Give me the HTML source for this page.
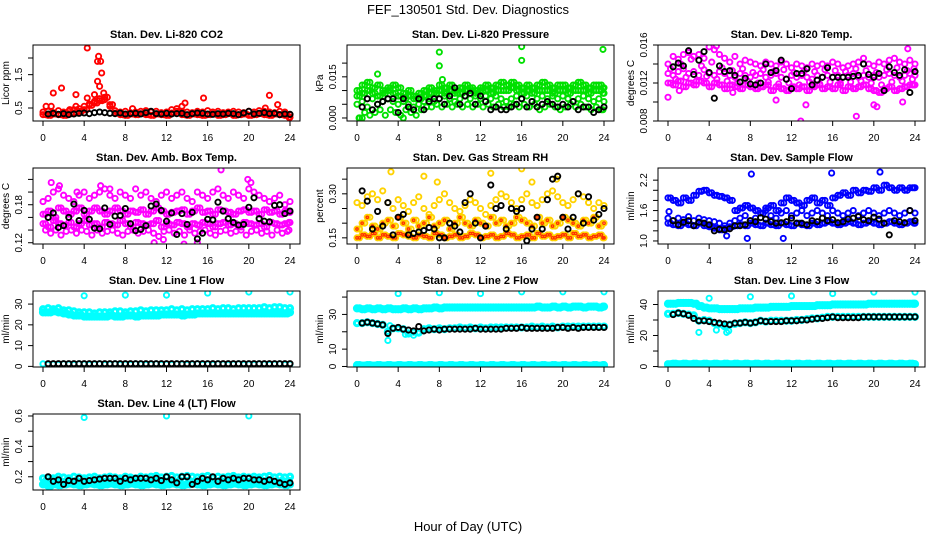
<!DOCTYPE html>
<html><head><meta charset="utf-8">
<style>
html,body{margin:0;padding:0;background:#fff;}
svg{display:block;font-family:"Liberation Sans",sans-serif;}
</style></head>
<body>
<svg id="chart" width="936" height="540" viewBox="0 0 936 540" xmlns="http://www.w3.org/2000/svg">
<text x="468" y="14" text-anchor="middle" font-size="13">FEF_130501  Std. Dev. Diagnostics</text>
<text x="468" y="531" text-anchor="middle" font-size="13">Hour of Day (UTC)</text>
</svg>
<script>
// shared time grids
const hours = [0,0.5,1,1.5,2,2.5,3,3.5,4,4.5,5,5.5,6,6.5,7,7.5,8,8.5,9,9.5,10,10.5,11,11.5,12,12.5,13,13.5,14,14.5,15,15.5,16,16.5,17,17.5,18,18.5,19,19.5,20,20.5,21,21.5,22,22.5,23,23.5,24];
const hoursOff = [0.25,0.75,1.25,1.75,2.25,2.75,3.25,3.75,4.25,4.75,5.25,5.75,6.25,6.75,7.25,7.75,8.25,8.75,9.25,9.75,10.25,10.75,11.25,11.75,12.25,12.75,13.25,13.75,14.25,14.75,15.25,15.75,16.25,16.75,17.25,17.75,18.25,18.75,19.25,19.75,20.25,20.75,21.25,21.75,22.25,22.75,23.25,23.75,23.9];
const blackHours = [0.5,1,1.5,2,2.5,3,3.5,4,4.5,5,5.5,6,6.5,7,7.5,8,8.5,9,9.5,10,10.5,11,11.5,12,12.5,13,13.5,14,14.5,15,15.5,16,16.5,17,17.5,18,18.5,19,19.5,20,20.5,21,21.5,22,22.5,23,23.5,24];
const xTicks = [0,4,8,12,16,20,24];

// Panel 1: Li-820 CO2
const co2A = [0.38,0.40,0.36,0.42,0.38,0.40,0.45,0.48,0.55,0.62,0.70,0.78,0.75,0.55,0.42,0.38,0.40,0.36,0.38,0.40,0.42,0.38,0.40,0.36,0.38,0.45,0.48,0.40,0.38,0.36,0.40,0.38,0.42,0.38,0.40,0.36,0.38,0.40,0.38,0.36,0.40,0.38,0.42,0.40,0.38,0.36,0.40,0.38,0.30];
const co2B = [0.30,0.28,0.32,0.30,0.28,0.33,0.35,0.40,0.45,0.58,0.65,0.72,0.82,0.60,0.35,0.30,0.28,0.32,0.30,0.33,0.30,0.28,0.32,0.30,0.28,0.35,0.40,0.30,0.28,0.32,0.30,0.28,0.30,0.32,0.28,0.30,0.33,0.28,0.30,0.32,0.28,0.30,0.33,0.30,0.28,0.32,0.30,0.28,0.22];
const co2OutX = [4.3,5.4,5.3,5.6,5.7,5.3,5.5,1.0,1.8,3.2,0.3,0.8,4.3,13.8,13.5,15.6,21.6,22.0,22.8,8.7,3.2,2.6,5.0,5.9];
const co2OutY = [2.3,2.05,1.9,1.9,1.55,1.3,1.15,0.95,1.1,0.9,0.55,0.55,0.8,0.65,0.55,0.8,0.5,0.88,0.6,0.48,0.55,0.45,0.9,0.95];
const co2Black = [0.32,0.34,0.31,0.33,0.30,0.32,0.34,0.35,0.33,0.36,0.38,0.36,0.34,0.33,0.35,0.32,0.33,0.34,0.32,0.36,0.40,0.33,0.32,0.34,0.32,0.33,0.34,0.30,0.33,0.35,0.34,0.32,0.31,0.33,0.32,0.34,0.33,0.30,0.35,0.40,0.32,0.34,0.36,0.33,0.34,0.30,0.32,0.31];

// Panel 2: Li-820 Pressure
const presA = [0.010,0.012,0.013,0.011,0.012,0.010,0.011,0.012,0.011,0.009,0.010,0.008,0.009,0.010,0.011,0.010,0.012,0.011,0.012,0.010,0.011,0.012,0.011,0.010,0.011,0.012,0.011,0.012,0.013,0.012,0.013,0.012,0.011,0.012,0.011,0.012,0.013,0.012,0.011,0.012,0.012,0.011,0.012,0.013,0.012,0.011,0.012,0.012,0.011];
const presB = [0.005,0.006,0.004,0.007,0.005,0.006,0.007,0.006,0.005,0.006,0.005,0.004,0.005,0.006,0.007,0.006,0.007,0.008,0.007,0.006,0.007,0.008,0.007,0.008,0.007,0.008,0.007,0.008,0.007,0.006,0.007,0.008,0.007,0.008,0.006,0.007,0.008,0.007,0.008,0.007,0.008,0.007,0.006,0.007,0.008,0.007,0.006,0.007,0.006];
const presC = [0.000,0.002,0.001,0.002,0.003,0.001,0.003,0.002,0.001,0.003,0.002,0.001,0.003,0.004,0.004,0.005,0.004,0.005,0.004,0.005,0.004,0.005,0.004,0.005,0.004,0.005,0.004,0.005,0.004,0.004,0.005,0.004,0.005,0.004,0.005,0.003,0.004,0.005,0.004,0.003,0.004,0.005,0.004,0.005,0.004,0.003,0.004,0.003,0.003];
const presD = [0.008,0.009,0.010,0.009,0.008,0.009,0.010,0.009,0.008,0.007,0.008,0.007,0.007,0.008,0.009,0.009,0.010,0.009,0.010,0.009,0.009,0.010,0.010,0.009,0.010,0.010,0.009,0.010,0.010,0.010,0.011,0.010,0.009,0.010,0.009,0.010,0.010,0.010,0.009,0.010,0.010,0.009,0.010,0.010,0.010,0.009,0.010,0.010,0.009];
const presOutX = [8,8,16,16,23.9,2,8.3,0.2,0.5,4.5];
const presOutY = [0.024,0.019,0.026,0.021,0.025,0.016,0.014,0.000,0.000,0.000];
const presBlack = [0.004,0.007,0.003,0.005,0.006,0.007,0.007,0.002,0.007,0.004,0.003,0.007,0.003,0.006,0.007,0.007,0.005,0.008,0.011,0.005,0.008,0.009,0.005,0.008,0.006,0.003,0.004,0.003,0.003,0.004,0.005,0.007,0.004,0.006,0.004,0.005,0.006,0.005,0.004,0.005,0.004,0.006,0.003,0.004,0.004,0.002,0.003,0.004];

// Panel 3: Li-820 Temp
const tempA = [0.0140,0.0148,0.0145,0.0150,0.0152,0.0148,0.0150,0.0146,0.0158,0.0155,0.0150,0.0146,0.0142,0.0148,0.0140,0.0144,0.0142,0.0140,0.0138,0.0142,0.0140,0.0138,0.0142,0.0140,0.0136,0.0140,0.0138,0.0136,0.0140,0.0138,0.0140,0.0138,0.0142,0.0140,0.0136,0.0138,0.0140,0.0142,0.0146,0.0140,0.0138,0.0142,0.0140,0.0144,0.0146,0.0142,0.0140,0.0144,0.0140];
const tempB = [0.0130,0.0128,0.0132,0.0135,0.0130,0.0132,0.0128,0.0134,0.0130,0.0128,0.0132,0.0130,0.0128,0.0126,0.0130,0.0128,0.0126,0.0128,0.0130,0.0126,0.0128,0.0130,0.0126,0.0124,0.0128,0.0126,0.0128,0.0126,0.0124,0.0128,0.0126,0.0128,0.0126,0.0128,0.0126,0.0128,0.0130,0.0126,0.0128,0.0126,0.0128,0.0126,0.0128,0.0130,0.0128,0.0126,0.0128,0.0130,0.0128];
const tempC = [0.0120,0.0118,0.0122,0.0116,0.0120,0.0118,0.0122,0.0120,0.0116,0.0120,0.0118,0.0114,0.0118,0.0116,0.0114,0.0118,0.0116,0.0114,0.0116,0.0118,0.0112,0.0116,0.0114,0.0112,0.0116,0.0114,0.0116,0.0112,0.0116,0.0118,0.0114,0.0116,0.0114,0.0118,0.0112,0.0116,0.0114,0.0116,0.0118,0.0114,0.0112,0.0110,0.0114,0.0116,0.0112,0.0114,0.0116,0.0118,0.0118];
const tempD = [0.0135,0.0124,0.0140,0.0126,0.0145,0.0122,0.0138,0.0127,0.0142,0.0124,0.0136,0.0122,0.0133,0.0120,0.0135,0.0122,0.0131,0.0120,0.0134,0.0121,0.0132,0.0119,0.0134,0.0120,0.0131,0.0118,0.0133,0.0121,0.0132,0.0119,0.0134,0.0121,0.0133,0.0120,0.0132,0.0121,0.0135,0.0122,0.0133,0.0120,0.0131,0.0118,0.0134,0.0121,0.0136,0.0122,0.0133,0.0124,0.0135];
const tempOutX = [0,12.9,18.3,13.4,4.7,23.3,20,1.1,6.3,10.5,20.3,22.8];
const tempOutY = [0.0105,0.0080,0.0085,0.0097,0.0159,0.0156,0.0097,0.0112,0.0110,0.0102,0.0095,0.0100];
const tempBlack = [0.0137,0.0141,0.0138,0.0154,0.0129,0.0144,0.0153,0.0131,0.0104,0.0138,0.0132,0.0133,0.0128,0.0121,0.0125,0.0119,0.0118,0.0120,0.0140,0.0131,0.0133,0.0144,0.0124,0.0114,0.0130,0.0130,0.0135,0.0118,0.0123,0.0126,0.0136,0.0126,0.0126,0.0126,0.0126,0.0127,0.0128,0.0140,0.0129,0.0126,0.0130,0.0112,0.0137,0.0131,0.0128,0.0134,0.0110,0.0132];

// Panel 4: Amb. Box Temp
const ambA = [0.185,0.190,0.200,0.205,0.195,0.190,0.185,0.195,0.200,0.190,0.195,0.200,0.205,0.195,0.190,0.200,0.195,0.190,0.205,0.195,0.200,0.190,0.185,0.195,0.200,0.190,0.195,0.200,0.190,0.185,0.200,0.195,0.190,0.200,0.205,0.195,0.190,0.200,0.195,0.190,0.205,0.200,0.195,0.190,0.185,0.190,0.195,0.180,0.185];
const ambB = [0.165,0.170,0.160,0.175,0.170,0.165,0.170,0.175,0.165,0.170,0.175,0.170,0.165,0.170,0.175,0.170,0.165,0.170,0.168,0.172,0.165,0.170,0.175,0.170,0.165,0.168,0.170,0.172,0.165,0.170,0.175,0.168,0.170,0.165,0.172,0.170,0.168,0.165,0.170,0.172,0.168,0.170,0.165,0.172,0.168,0.170,0.165,0.170,0.168];
const ambC = [0.150,0.145,0.155,0.150,0.148,0.152,0.145,0.150,0.155,0.148,0.150,0.145,0.152,0.150,0.148,0.155,0.150,0.145,0.152,0.150,0.148,0.150,0.155,0.145,0.150,0.148,0.152,0.150,0.145,0.150,0.148,0.152,0.150,0.145,0.150,0.152,0.148,0.150,0.145,0.152,0.150,0.148,0.150,0.145,0.152,0.150,0.148,0.150,0.152];
const ambD = [0.140,0.135,0.140,0.132,0.138,0.140,0.135,0.140,0.138,0.132,0.140,0.135,0.138,0.140,0.135,0.132,0.138,0.140,0.135,0.138,0.140,0.135,0.130,0.138,0.140,0.135,0.138,0.132,0.140,0.135,0.138,0.140,0.135,0.132,0.138,0.140,0.135,0.138,0.140,0.132,0.138,0.140,0.135,0.138,0.132,0.140,0.135,0.138,0.140];
const ambOutX = [17.3,19.9,15.0,1.6,6.5,0.8,5.6,11.7,20.2,13.7,3.3,10.8];
const ambOutY = [0.235,0.220,0.120,0.210,0.205,0.215,0.210,0.125,0.215,0.118,0.200,0.120];
const ambBlack = [0.160,0.167,0.144,0.147,0.160,0.181,0.155,0.171,0.157,0.143,0.142,0.175,0.149,0.162,0.163,0.174,0.150,0.139,0.141,0.147,0.178,0.181,0.171,0.154,0.167,0.133,0.166,0.149,0.168,0.126,0.135,0.157,0.156,0.184,0.170,0.158,0.152,0.148,0.149,0.176,0.191,0.158,0.154,0.153,0.179,0.180,0.166,0.170];

// Panel 5: Gas Stream RH
const rhA = [0.180,0.200,0.220,0.190,0.180,0.200,0.210,0.190,0.220,0.200,0.180,0.210,0.190,0.200,0.220,0.190,0.200,0.210,0.180,0.200,0.220,0.200,0.190,0.210,0.200,0.190,0.220,0.200,0.210,0.190,0.200,0.220,0.210,0.200,0.190,0.220,0.200,0.210,0.190,0.200,0.220,0.210,0.200,0.190,0.210,0.200,0.220,0.190,0.200];
const rhB = [0.150,0.160,0.155,0.165,0.150,0.160,0.155,0.150,0.165,0.160,0.155,0.150,0.160,0.155,0.150,0.165,0.160,0.150,0.155,0.160,0.150,0.155,0.165,0.160,0.150,0.155,0.160,0.150,0.155,0.165,0.160,0.150,0.155,0.160,0.150,0.165,0.155,0.160,0.150,0.155,0.160,0.150,0.165,0.155,0.160,0.150,0.155,0.160,0.150];
const rhC = [0.270,0.260,0.290,0.300,0.280,0.310,0.270,0.250,0.280,0.260,0.240,0.270,0.290,0.250,0.230,0.260,0.280,0.300,0.270,0.250,0.240,0.260,0.280,0.270,0.250,0.230,0.260,0.280,0.300,0.290,0.270,0.250,0.280,0.300,0.270,0.260,0.280,0.300,0.310,0.290,0.270,0.260,0.280,0.300,0.290,0.270,0.250,0.270,0.260];
const rhOutX = [3.3,7.8,13.0,16.0,6.5,19.4,17.0];
const rhOutY = [0.375,0.340,0.370,0.385,0.360,0.350,0.340];
const rhBlack = [0.310,0.275,0.180,0.240,0.190,0.270,0.160,0.220,0.230,0.160,0.165,0.170,0.175,0.185,0.180,0.150,0.150,0.200,0.190,0.170,0.270,0.300,0.200,0.150,0.190,0.330,0.250,0.260,0.180,0.250,0.240,0.250,0.140,0.180,0.220,0.180,0.280,0.350,0.360,0.220,0.180,0.220,0.300,0.200,0.290,0.210,0.230,0.250];

// Panel 6: Sample Flow
const flowA = [1.85,1.80,1.75,1.85,1.80,1.90,1.98,2.00,1.95,1.90,1.88,1.85,1.80,1.60,1.65,1.70,1.65,1.60,1.55,1.65,1.70,1.60,1.75,1.85,1.80,1.75,1.70,1.80,1.85,1.75,1.80,1.70,1.85,1.90,1.95,1.90,2.00,1.95,2.00,1.98,2.05,2.00,2.10,2.05,2.00,2.05,2.00,2.05,2.05];
const flowB = [1.45,1.40,1.45,1.42,1.48,1.40,1.45,1.42,1.40,1.38,1.35,1.30,1.35,1.40,1.45,1.50,1.40,1.45,1.55,1.60,1.50,1.45,1.55,1.60,1.50,1.55,1.60,1.50,1.55,1.60,1.55,1.50,1.60,1.55,1.50,1.55,1.60,1.50,1.55,1.60,1.55,1.50,1.55,1.60,1.55,1.50,1.55,1.60,1.55];
const flowC = [1.35,1.32,1.30,1.35,1.32,1.30,1.35,1.30,1.28,1.25,1.22,1.25,1.28,1.30,1.32,1.30,1.35,1.32,1.30,1.35,1.32,1.30,1.35,1.32,1.30,1.35,1.32,1.30,1.35,1.32,1.35,1.38,1.35,1.32,1.35,1.38,1.35,1.32,1.35,1.38,1.35,1.32,1.35,1.38,1.35,1.32,1.35,1.38,1.35];
const flowOutX = [8.1,15.9,20.6,5.7,7.7,11.2,0.1];
const flowOutY = [2.32,2.34,2.36,1.10,1.05,1.05,1.58];
const flowBlack = [1.40,1.32,1.37,1.40,1.30,1.37,1.35,1.32,1.20,1.23,1.22,1.24,1.30,1.30,1.32,1.40,1.38,1.46,1.43,1.38,1.35,1.36,1.38,1.45,1.35,1.35,1.32,1.40,1.38,1.45,1.40,1.42,1.36,1.38,1.43,1.45,1.48,1.42,1.40,1.47,1.43,1.35,1.12,1.40,1.38,1.36,1.60,1.40];

// Panel 7: Line 1 Flow
const l1A = [27.5,28.0,27.5,28.0,27.0,27.0,26.5,26.0,26.0,26.0,25.5,26.0,26.0,26.0,26.5,26.5,26.0,26.5,26.5,27.0,26.5,27.0,27.0,27.0,27.0,27.5,27.0,27.5,27.0,27.5,27.5,27.5,27.5,28.0,27.5,28.0,28.0,27.5,28.0,28.0,28.0,28.0,28.0,28.5,28.0,28.5,28.5,28.0,28.0];
const l1B = [26.0,26.0,26.5,26.0,25.5,25.0,24.5,24.5,24.0,24.0,24.0,24.0,24.0,24.5,24.0,24.0,24.5,24.5,24.0,24.5,24.5,24.5,24.5,25.0,25.0,25.0,25.0,24.5,25.0,25.0,25.5,25.5,25.5,25.5,25.5,25.5,25.5,25.5,25.5,25.5,25.5,25.5,25.5,25.5,25.5,25.5,25.5,25.5,26.0];
const l1C = [1.2,1.0,1.1,1.0,1.2,1.1,1.0,1.2,1.1,1.0,1.1,1.2,1.0,1.1,1.2,1.0,1.1,1.0,1.2,1.1,1.0,1.1,1.2,1.0,1.1,1.0,1.2,1.1,1.0,1.1,1.2,1.0,1.1,1.0,1.2,1.1,1.0,1.1,1.2,1.0,1.1,1.0,1.2,1.1,1.0,1.1,1.2,1.0,1.1];
const l1OutX = [4,8,12,16,20,24];
const l1OutY = [34.0,34.3,34.3,35.3,35.8,35.8];
const l1Black = [1.3,1.3,1.3,1.3,1.3,1.3,1.3,1.3,1.3,1.3,1.3,1.3,1.3,1.3,1.3,1.3,1.3,1.3,1.3,1.3,1.3,1.3,1.3,1.3,1.3,1.3,1.3,1.3,1.3,1.3,1.3,1.3,1.3,1.3,1.3,1.3,1.3,1.3,1.3,1.3,1.3,1.3,1.3,1.3,1.3,1.3,1.3,1.3];

// Panel 8: Line 2 Flow
const l2A = [33.5,33.0,33.5,33.0,33.5,33.0,33.5,33.0,33.0,33.5,33.0,33.5,33.0,33.5,33.5,34.0,33.5,34.0,34.0,34.0,34.0,34.0,34.0,34.0,34.0,34.0,34.0,34.0,34.0,34.0,34.0,34.0,34.0,34.0,34.0,34.5,34.0,34.0,34.5,34.0,34.5,34.0,34.5,34.5,34.0,34.5,34.5,34.0,34.5];
const l2B = [25.0,25.0,25.5,25.0,24.5,24.0,20.0,22.0,22.0,21.5,19.0,20.0,19.5,21.5,22.0,21.5,22.0,21.5,22.0,22.0,22.5,22.0,22.5,22.0,22.5,22.0,22.5,22.5,22.5,22.5,22.5,22.5,22.5,22.5,23.0,22.5,23.0,22.5,23.0,22.5,23.0,23.0,23.0,23.0,23.0,23.0,23.0,23.0,23.0];
const l2C = [0.8,0.5,0.8,0.5,0.8,0.5,0.8,0.5,0.8,0.5,0.8,0.5,0.8,0.5,0.8,0.5,0.8,0.5,0.8,0.5,0.8,0.5,0.8,0.5,0.8,0.5,0.8,0.5,0.8,0.5,0.8,0.5,0.8,0.5,0.8,0.5,0.8,0.5,0.8,0.5,0.8,0.5,0.8,0.5,0.8,0.5,0.8,0.5,0.8];
const l2OutX = [4,8,12,16,20,24,3,3.2,4.7,5.5];
const l2OutY = [42.0,42.5,42.0,43.0,43.0,43.0,15.0,23.5,18.5,18.0];
const l2Black = [25.0,25.5,25.0,24.5,24.0,19.0,22.0,22.5,21.5,21.0,20.5,23.0,20.5,21.0,21.5,21.0,21.5,21.5,21.5,21.5,21.5,21.5,22.0,21.5,21.5,21.5,21.5,21.5,22.0,22.0,22.0,22.5,22.0,22.0,22.0,22.0,22.0,22.0,22.5,22.5,22.0,22.5,22.0,22.5,22.5,22.5,22.5,22.5];

// Panel 9: Line 3 Flow
const l3A = [40.5,40.5,41.0,41.0,41.0,40.5,39.0,38.0,37.5,37.5,37.0,37.0,37.0,37.0,37.5,37.5,37.5,38.0,38.0,38.0,38.5,38.5,38.5,38.5,39.0,39.0,39.0,39.0,39.0,39.5,39.5,39.5,40.0,40.0,40.0,40.0,40.0,40.0,40.0,40.5,40.5,40.5,40.5,40.5,40.5,40.5,40.5,40.5,40.5];
const l3B = [34.0,34.0,34.5,34.0,33.5,33.0,29.5,30.0,29.5,28.0,27.5,26.0,27.0,27.5,28.0,28.5,28.0,28.5,29.5,29.0,29.5,29.5,29.5,29.5,29.5,30.0,30.0,30.5,31.0,31.0,31.5,32.0,32.0,32.0,32.0,32.0,32.0,32.0,32.0,32.0,32.0,32.0,32.0,32.0,32.0,32.0,32.0,32.0,32.0];
const l3C = [1.5,1.8,1.5,1.8,1.5,1.8,1.5,1.8,1.5,1.8,1.5,1.8,1.5,1.8,1.5,1.8,1.5,1.8,1.5,1.8,1.5,1.8,1.5,1.8,1.5,1.8,1.5,1.8,1.5,1.8,1.5,1.8,1.5,1.8,1.5,1.8,1.5,1.8,1.5,1.8,1.5,1.8,1.5,1.8,1.5,1.8,1.5,1.8,1.5];
const l3OutX = [4,8,12,16,20,24,3,4.7,5.7,5.9];
const l3OutY = [44.0,45.0,45.5,47.0,48.0,48.0,22.0,23.5,22.0,23.0];
const l3Black = [33.5,34.5,34.0,33.0,31.0,29.5,29.5,29.0,28.5,28.0,27.5,27.0,28.0,28.0,28.5,28.0,28.5,29.5,29.0,29.0,29.0,29.0,29.5,29.5,29.5,30.0,30.0,30.5,31.0,31.0,31.5,32.0,31.5,31.5,31.5,31.5,31.5,32.0,32.0,32.0,32.0,32.0,32.0,32.0,32.0,32.0,32.0,32.0];

// Panel 10: Line 4 (LT) Flow
const l4A = [0.190,0.195,0.190,0.200,0.195,0.190,0.200,0.195,0.190,0.195,0.200,0.190,0.195,0.200,0.195,0.190,0.200,0.195,0.190,0.200,0.195,0.200,0.205,0.195,0.200,0.205,0.195,0.200,0.205,0.200,0.195,0.200,0.205,0.195,0.200,0.195,0.200,0.205,0.195,0.200,0.195,0.200,0.195,0.200,0.205,0.195,0.200,0.195,0.200];
const l4B = [0.150,0.140,0.150,0.145,0.150,0.155,0.150,0.145,0.150,0.155,0.150,0.145,0.150,0.155,0.150,0.145,0.150,0.155,0.150,0.145,0.150,0.155,0.150,0.145,0.150,0.155,0.150,0.145,0.150,0.155,0.150,0.145,0.150,0.155,0.150,0.145,0.150,0.155,0.150,0.145,0.150,0.155,0.150,0.145,0.150,0.155,0.150,0.145,0.150];
const l4C = [0.170,0.175,0.170,0.168,0.172,0.170,0.175,0.170,0.172,0.170,0.175,0.170,0.172,0.170,0.175,0.170,0.172,0.170,0.175,0.170,0.172,0.170,0.175,0.170,0.172,0.170,0.175,0.170,0.172,0.170,0.175,0.170,0.172,0.170,0.175,0.170,0.172,0.170,0.175,0.170,0.172,0.170,0.175,0.170,0.172,0.170,0.175,0.170,0.172];
const l4OutX = [4,12,20];
const l4OutY = [0.59,0.60,0.60];
const l4Black = [0.200,0.170,0.180,0.150,0.175,0.170,0.190,0.170,0.175,0.180,0.185,0.190,0.190,0.190,0.170,0.190,0.180,0.190,0.190,0.190,0.180,0.190,0.175,0.200,0.180,0.160,0.200,0.200,0.150,0.170,0.190,0.180,0.200,0.170,0.190,0.180,0.190,0.180,0.190,0.190,0.180,0.180,0.170,0.180,0.170,0.160,0.150,0.160];

const svg = document.getElementById('chart');
const NS = 'http://www.w3.org/2000/svg';
const colLefts = [33, 347, 658];
const rowTops = [45, 168, 291, 414];
const boxW = 267, boxH = 76;

function mk(tag, attrs, parent) {
  const e = document.createElementNS(NS, tag);
  for (const k in attrs) e.setAttribute(k, attrs[k]);
  (parent || svg).appendChild(e);
  return e;
}

function panel(p) {
  const left = colLefts[p.col], top = rowTops[p.row];
  const g = mk('g', {});
  
  
  const xs = t => left + 10 + t * (247 / 24);
  const ys = v => top + boxH - (v - p.ymin) / (p.ymax - p.ymin) * boxH;
  const clip = 'clip-' + p.name;
  const cp = mk('clipPath', {id: clip}, g);
  mk('rect', {x: left, y: top, width: boxW, height: boxH}, cp);
  const pts = mk('g', {'clip-path': 'url(#' + clip + ')'}, g);
  
  
  p.series.forEach(s => {
    const n = Math.min(s.x.length, s.y.length);
    for (let i = 0; i < n; i++) {
      const c = mk('circle', {cx: xs(s.x[i]), cy: ys(s.y[i]), r: s.r || 2.6, fill: s.fill || 'none', stroke: s.color, 'stroke-width': s.w || 1.9}, pts);
      
      
    }
  });
  const box = mk('rect', {x: left, y: top, width: boxW, height: boxH, fill: 'none', stroke: '#000', 'stroke-width': 1}, g);
  
  
  const title = mk('text', {x: left + boxW / 2, y: top - 7, 'text-anchor': 'middle', 'font-size': 11, 'font-weight': 'bold'}, g);
  title.textContent = p.title;
  
  
  const xa = mk('g', {}, g);
  
  
  mk('line', {x1: xs(0), x2: xs(24), y1: top + boxH, y2: top + boxH, stroke: '#000'}, xa);
  xTicks.forEach(t => {
    mk('line', {x1: xs(t), x2: xs(t), y1: top + boxH, y2: top + boxH + 5, stroke: '#000'}, xa);
    const tx = mk('text', {x: xs(t), y: top + boxH + 20, 'text-anchor': 'middle', 'font-size': 10}, xa);
    tx.textContent = t;
    
    
  });
  const ya = mk('g', {}, g);
  
  
  p.yticks.forEach(v => {
    mk('line', {x1: left - 5, x2: left, y1: ys(v), y2: ys(v), stroke: '#000'}, ya);
  });
  mk('line', {x1: left, x2: left, y1: ys(p.yticks[0]), y2: ys(p.yticks[p.yticks.length - 1]), stroke: '#000'}, ya);
  p.ylabels.forEach((v, i) => {
    const tx = mk('text', {x: left - 11, y: ys(v), 'text-anchor': 'middle', 'font-size': 10, transform: 'rotate(-90 ' + (left - 11) + ' ' + ys(v) + ')'}, ya);
    tx.textContent = p.ylabelText[i];
    
    
  });
  const yt = mk('text', {x: left - 24, y: top + boxH / 2, 'text-anchor': 'middle', 'font-size': 10, transform: 'rotate(-90 ' + (left - 24) + ' ' + (top + boxH / 2) + ')'}, g);
  yt.textContent = p.ytitle;
  
  
}

const RED = '#ff0000', GREEN = '#00e000', MAG = '#ff00ff', YEL = '#ffd200', ORG = '#ff3000', BLUE = '#0000ff', CYAN = '#00ffff', BLK = '#000';

panel({name: 'co2', title: 'Stan. Dev. Li-820 CO2', col: 0, row: 0, ymin: 0.11, ymax: 2.39, yticks: [0.5, 1, 1.5, 2], ylabels: [0.5, 1.5], ylabelText: ['0.5', '1.5'], ytitle: 'Licor ppm',
  series: [{label: 'red', color: RED, x: hours, y: co2A}, {label: 'red', color: RED, x: hoursOff, y: co2B}, {label: 'red', color: RED, x: hours, y: co2B}, {label: 'red-outlier', color: RED, x: co2OutX, y: co2OutY}, {label: 'black', color: BLK, x: blackHours, y: co2Black}]});
panel({name: 'pressure', title: 'Stan. Dev. Li-820 Pressure', col: 1, row: 0, ymin: -0.0011, ymax: 0.0266, yticks: [0, 0.005, 0.01, 0.015, 0.02], ylabels: [0, 0.015], ylabelText: ['0.000', '0.015'], ytitle: 'kPa',
  series: [{label: 'green', color: GREEN, x: hours, y: presA}, {label: 'green', color: GREEN, x: hoursOff, y: presD}, {label: 'green', color: GREEN, x: hours, y: presB}, {label: 'green', color: GREEN, x: hoursOff, y: presC}, {label: 'green', color: GREEN, x: hoursOff, y: presA}, {label: 'green', color: GREEN, x: hours, y: presD}, {label: 'green-outlier', color: GREEN, x: presOutX, y: presOutY}, {label: 'black', color: BLK, x: blackHours, y: presBlack}]});
panel({name: 'li820-temp', title: 'Stan. Dev. Li-820 Temp.', col: 2, row: 0, ymin: 0.008, ymax: 0.016, yticks: [0.008, 0.010, 0.012, 0.014, 0.016], ylabels: [0.008, 0.012, 0.016], ylabelText: ['0.008', '0.012', '0.016'], ytitle: 'degrees C',
  series: [{label: 'magenta', color: MAG, x: hours, y: tempA}, {label: 'magenta', color: MAG, x: hoursOff, y: tempD}, {label: 'magenta', color: MAG, x: hours, y: tempB}, {label: 'magenta', color: MAG, x: hoursOff, y: tempC}, {label: 'magenta', color: MAG, x: hours, y: tempC}, {label: 'magenta-outlier', color: MAG, x: tempOutX, y: tempOutY}, {label: 'black', color: BLK, x: blackHours, y: tempBlack}]});
panel({name: 'amb-box-temp', title: 'Stan. Dev. Amb. Box Temp.', col: 0, row: 1, ymin: 0.118, ymax: 0.238, yticks: [0.12, 0.14, 0.16, 0.18, 0.20, 0.22], ylabels: [0.12, 0.18], ylabelText: ['0.12', '0.18'], ytitle: 'degrees C',
  series: [{label: 'magenta', color: MAG, x: hours, y: ambA}, {label: 'magenta', color: MAG, x: hoursOff, y: ambB}, {label: 'magenta', color: MAG, x: hours, y: ambC}, {label: 'magenta', color: MAG, x: hoursOff, y: ambD}, {label: 'magenta', color: MAG, x: hours, y: ambB}, {label: 'magenta', color: MAG, x: hoursOff, y: ambC}, {label: 'magenta-outlier', color: MAG, x: ambOutX, y: ambOutY}, {label: 'black', color: BLK, x: blackHours, y: ambBlack}]});
panel({name: 'gas-rh', title: 'Stan. Dev. Gas Stream RH', col: 1, row: 1, ymin: 0.129, ymax: 0.388, yticks: [0.15, 0.2, 0.25, 0.3, 0.35], ylabels: [0.15, 0.30], ylabelText: ['0.15', '0.30'], ytitle: 'percent',
  series: [{label: 'yellow', color: YEL, x: hours, y: rhA}, {label: 'yellow', color: YEL, x: hoursOff, y: rhB}, {label: 'yellow', color: YEL, x: hours, y: rhC}, {label: 'yellow', color: YEL, x: hours, y: rhB}, {label: 'yellow', color: YEL, x: hoursOff, y: rhA}, {label: 'red', color: ORG, r: 1.2, w: 1.3, x: hours, y: rhA}, {label: 'red', color: ORG, r: 1.2, w: 1.3, x: hours, y: rhB}, {label: 'red', color: ORG, r: 1.2, w: 1.3, x: hoursOff, y: rhB}, {label: 'yellow-outlier', color: YEL, x: rhOutX, y: rhOutY}, {label: 'black', color: BLK, x: blackHours, y: rhBlack}]});
panel({name: 'sample-flow', title: 'Stan. Dev. Sample Flow', col: 2, row: 1, ymin: 0.94, ymax: 2.44, yticks: [1.0, 1.2, 1.4, 1.6, 1.8, 2.0, 2.2], ylabels: [1.0, 1.6, 2.2], ylabelText: ['1.0', '1.6', '2.2'], ytitle: 'ml/min',
  series: [{label: 'blue', color: BLUE, x: hours, y: flowA}, {label: 'blue', color: BLUE, x: hoursOff, y: flowA}, {label: 'blue', color: BLUE, x: hours, y: flowB}, {label: 'blue', color: BLUE, x: hoursOff, y: flowC}, {label: 'blue', color: BLUE, x: hours, y: flowC}, {label: 'blue-outlier', color: BLUE, x: flowOutX, y: flowOutY}, {label: 'black', color: BLK, x: blackHours, y: flowBlack}]});
panel({name: 'line1-flow', title: 'Stan. Dev. Line 1 Flow', col: 0, row: 2, ymin: -0.3, ymax: 36.3, yticks: [0, 10, 20, 30], ylabels: [0, 10, 20, 30], ylabelText: ['0', '10', '20', '30'], ytitle: 'ml/min',
  series: [{label: 'cyan', color: CYAN, x: hours, y: l1A, w: 3}, {label: 'cyan', color: CYAN, x: hoursOff, y: l1B, w: 3}, {label: 'cyan', color: CYAN, x: hours, y: l1B, w: 3}, {label: 'cyan', color: CYAN, x: hours, y: l1C, w: 2}, {label: 'cyan-outlier', color: CYAN, x: l1OutX, y: l1OutY}, {label: 'black', color: BLK, x: blackHours, y: l1Black}]});
panel({name: 'line2-flow', title: 'Stan. Dev. Line 2 Flow', col: 1, row: 2, ymin: -0.3, ymax: 43.5, yticks: [0, 10, 20, 30, 40], ylabels: [0, 10, 30], ylabelText: ['0', '10', '30'], ytitle: 'ml/min',
  series: [{label: 'cyan', color: CYAN, x: hours, y: l2A, w: 3}, {label: 'cyan', color: CYAN, x: hoursOff, y: l2A, w: 3}, {label: 'cyan', color: CYAN, x: hours, y: l2B, w: 3}, {label: 'cyan', color: CYAN, x: hours, y: l2C, w: 3}, {label: 'cyan', color: CYAN, x: hoursOff, y: l2C, w: 3}, {label: 'cyan-outlier', color: CYAN, x: l2OutX, y: l2OutY}, {label: 'black', color: BLK, x: blackHours, y: l2Black}]});
panel({name: 'line3-flow', title: 'Stan. Dev. Line 3 Flow', col: 2, row: 2, ymin: -0.3, ymax: 48.7, yticks: [0, 10, 20, 30, 40], ylabels: [0, 20, 40], ylabelText: ['0', '20', '40'], ytitle: 'ml/min',
  series: [{label: 'cyan', color: CYAN, x: hours, y: l3A, w: 3}, {label: 'cyan', color: CYAN, x: hoursOff, y: l3A, w: 3}, {label: 'cyan', color: CYAN, x: hours, y: l3B, w: 3}, {label: 'cyan', color: CYAN, x: hours, y: l3C, w: 3}, {label: 'cyan', color: CYAN, x: hoursOff, y: l3C, w: 3}, {label: 'cyan-outlier', color: CYAN, x: l3OutX, y: l3OutY}, {label: 'black', color: BLK, x: blackHours, y: l3Black}]});
panel({name: 'line4-flow', title: 'Stan. Dev. Line 4 (LT) Flow', col: 0, row: 3, ymin: 0.113, ymax: 0.613, yticks: [0.2, 0.3, 0.4, 0.5, 0.6], ylabels: [0.2, 0.4, 0.6], ylabelText: ['0.2', '0.4', '0.6'], ytitle: 'ml/min',
  series: [{label: 'cyan', color: CYAN, x: hours, y: l4A, w: 3}, {label: 'cyan', color: CYAN, x: hoursOff, y: l4B, w: 3}, {label: 'cyan', color: CYAN, x: hours, y: l4B, w: 3}, {label: 'cyan', color: CYAN, x: hoursOff, y: l4C, w: 3}, {label: 'cyan-outlier', color: CYAN, x: l4OutX, y: l4OutY}, {label: 'black', color: BLK, x: blackHours, y: l4Black}]});
</script>
</body></html>
